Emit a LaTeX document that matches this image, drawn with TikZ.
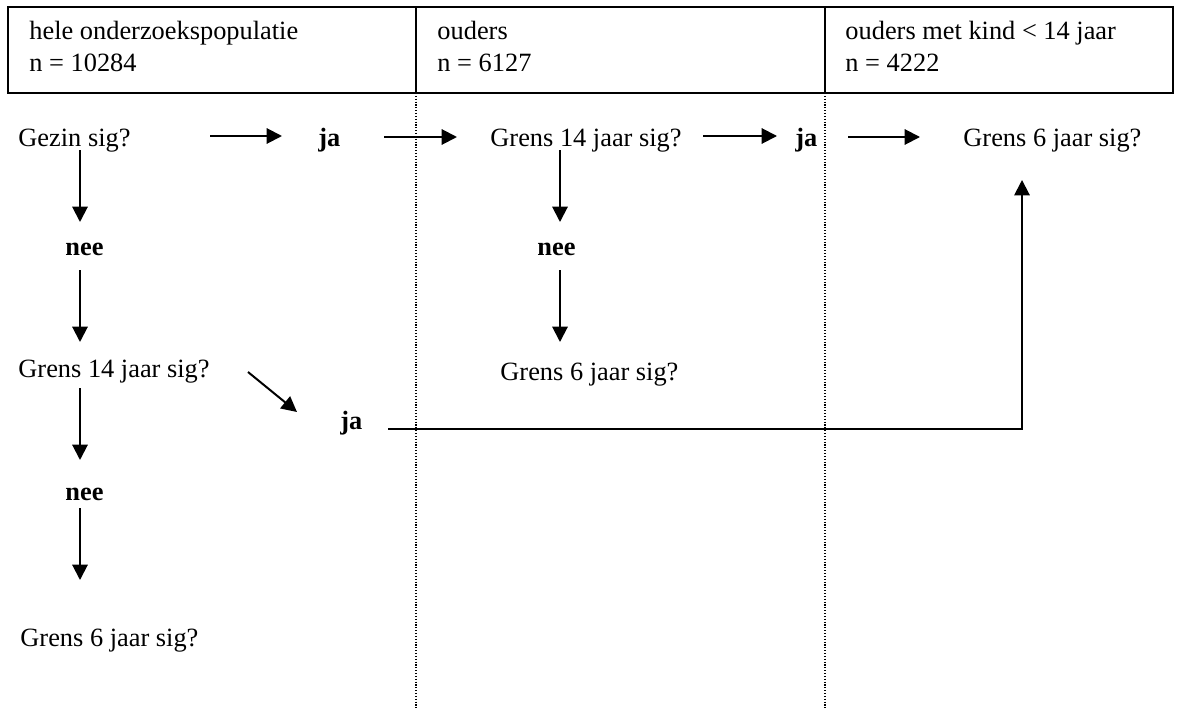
\documentclass[tikz,border=0pt]{standalone}
\usepackage{fontspec}
\setmainfont{Liberation Serif}
\usetikzlibrary{arrows.meta}

\begin{document}
\begin{tikzpicture}[x=0.455pt,y=-0.455pt]
			\tikzstyle{arrow} = [-{Triangle[length=7pt,width=7pt]}, line width=0.9pt]
			\tikzstyle{invisible} = [outer sep=0,inner sep=0,minimum size=0]
			\tikzstyle{label} = [inner sep=0, anchor=base west, font=\fontsize{12}{14}\selectfont]
			\tikzstyle{answer} = [label, font=\fontsize{12}{14}\selectfont\bfseries]
			\tikzstyle{divider} = [line width=0.5pt, dash pattern=on 0.5pt off 0.8pt]
			\useasboundingbox (0,0) rectangle (1179,709);
			% kop van de tabel
			\draw[line width=0.9pt] (8,7) rectangle (1173,93);
			\draw[line width=0.9pt] (416,7) -- (416,93);
			\draw[line width=0.9pt] (825,7) -- (825,93);
			\draw[divider] (416,93) -- (416,709);
			\draw[divider] (825,93) -- (825,709);
			\node [label] (head1) at (29,40) {hele onderzoekspopulatie};
			\node [label] (size1) at (29,72) {n = 10284};
			\node [label] (head2) at (437,40) {ouders};
			\node [label] (size2) at (437,72) {n = 6127};
			\node [label] (head3) at (845,40) {ouders met kind < 14 jaar};
			\node [label] (size3) at (845,72) {n = 4222};
			% vragen en antwoorden
			\node [label] (gezin) at (18,147) {Gezin sig?};
			\node [answer] (ja1) at (318,147) {ja};
			\node [label] (grens14b) at (490,147) {Grens 14 jaar sig?};
			\node [answer] (ja2) at (795,147) {ja};
			\node [label] (grens6c) at (963,147) {Grens 6 jaar sig?};
			\node [answer] (nee1) at (65,255) {nee};
			\node [label] (grens14a) at (18,377) {Grens 14 jaar sig?};
			\node [answer] (nee2) at (65,500) {nee};
			\node [label] (grens6a) at (20,646) {Grens 6 jaar sig?};
			\node [answer] (ja3) at (340,429) {ja};
			\node [answer] (nee3) at (537,255) {nee};
			\node [label] (grens6b) at (500,380) {Grens 6 jaar sig?};
			% eindpunten van de pijlen
			\node [invisible] (v1) at (210,136) {};
			\node [invisible] (v2) at (282,136) {};
			\node [invisible] (v3) at (384,137) {};
			\node [invisible] (v4) at (457,137) {};
			\node [invisible] (v5) at (703,136) {};
			\node [invisible] (v6) at (777,136) {};
			\node [invisible] (v7) at (848,137) {};
			\node [invisible] (v8) at (920,137) {};
			\node [invisible] (v9) at (80,150) {};
			\node [invisible] (v10) at (80,222) {};
			\node [invisible] (v11) at (80,270) {};
			\node [invisible] (v12) at (80,342) {};
			\node [invisible] (v13) at (80,388) {};
			\node [invisible] (v14) at (80,460) {};
			\node [invisible] (v15) at (80,508) {};
			\node [invisible] (v16) at (80,580) {};
			\node [invisible] (v17) at (248,372) {};
			\node [invisible] (v18) at (297,412) {};
			\node [invisible] (v19) at (560,150) {};
			\node [invisible] (v20) at (560,222) {};
			\node [invisible] (v21) at (560,270) {};
			\node [invisible] (v22) at (560,342) {};
			\node [invisible] (v23) at (388,429) {};
			\node [invisible] (v24) at (1022,180) {};
			\draw [arrow] (v1) -- (v2);
			\draw [arrow] (v3) -- (v4);
			\draw [arrow] (v5) -- (v6);
			\draw [arrow] (v7) -- (v8);
			\draw [arrow] (v9) -- (v10);
			\draw [arrow] (v11) -- (v12);
			\draw [arrow] (v13) -- (v14);
			\draw [arrow] (v15) -- (v16);
			\draw [arrow] (v17) -- (v18);
			\draw [arrow] (v19) -- (v20);
			\draw [arrow] (v21) -- (v22);
			\draw [arrow] (v23) -| (v24);
\end{tikzpicture}
\end{document}
